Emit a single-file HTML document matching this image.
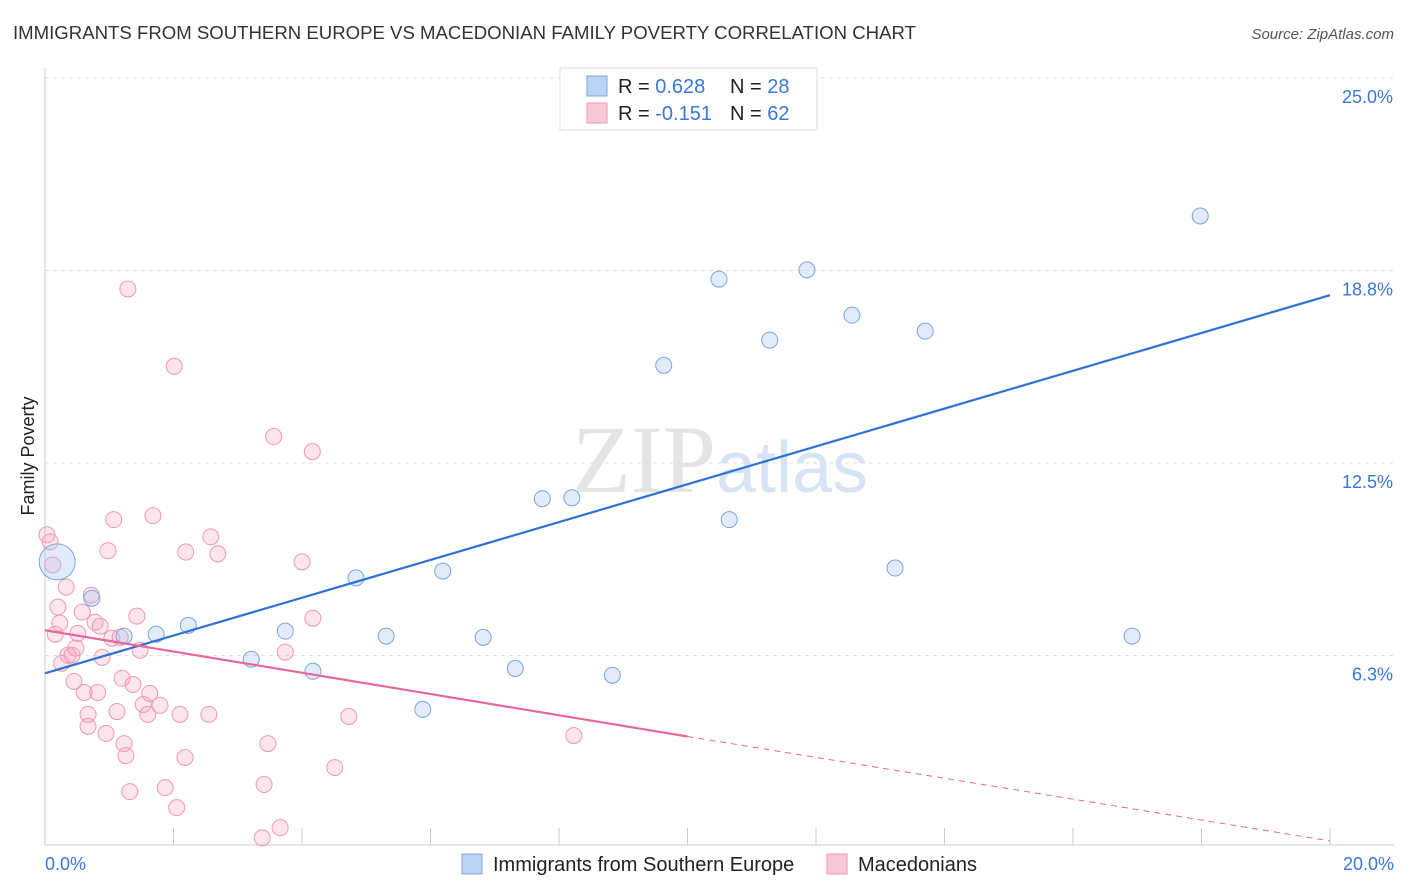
<!DOCTYPE html>
<html><head><meta charset="utf-8"><style>
body{margin:0;background:#fff;font-family:"Liberation Sans",sans-serif}
svg{display:block}
</style></head><body>
<svg id="chart" width="1406" height="892">
<text x="13" y="39" font-size="18.6" fill="#333">IMMIGRANTS FROM SOUTHERN EUROPE VS MACEDONIAN FAMILY POVERTY CORRELATION CHART</text>
<text x="1394" y="39" font-size="15" fill="#555" text-anchor="end" font-style="italic">Source: ZipAtlas.com</text>
<text x="720" y="492" font-size="96" fill="#e4e4e4" text-anchor="middle" font-family="Liberation Serif,serif">ZIP<tspan fill="#d6e4f4" font-family="Liberation Sans,sans-serif" font-size="72">atlas</tspan></text>
<text transform="translate(34,456) rotate(-90)" font-size="18" fill="#222" text-anchor="middle">Family Poverty</text>
<g id="grid"></g><g id="pts"></g><g id="lines"></g>
<g>
<rect x="560" y="68" width="257" height="62" fill="#fff" stroke="#ddd"/>
<rect x="587" y="76" width="20" height="20" fill="#bcd4f3" stroke="#7aa6e0"/>
<rect x="587" y="103" width="20" height="20" fill="#f9c8d8" stroke="#ef97b4"/>
<text x="618" y="93" font-size="20" fill="#222">R = <tspan fill="#3a78d8">0.628</tspan><tspan x="730">N = </tspan><tspan fill="#3a78d8">28</tspan></text>
<text x="618" y="120" font-size="20" fill="#222">R = <tspan fill="#3a78d8">-0.151</tspan><tspan x="730">N = </tspan><tspan fill="#3a78d8">62</tspan></text>
</g>
<g>
<rect x="462" y="854" width="20" height="20" fill="#bcd4f3" stroke="#7aa6e0"/>
<text x="493" y="871" font-size="20" fill="#222">Immigrants from Southern Europe</text>
<rect x="827" y="854" width="20" height="20" fill="#f9c8d8" stroke="#ef97b4"/>
<text x="858" y="871" font-size="20" fill="#222">Macedonians</text>
</g>
</svg>
<script>
const yTicks=[25,18.75,12.5,6.25];
const yTickLabels=["25.0%","18.8%","12.5%","6.3%"];
const xLabels=["0.0%","20.0%"];
const blueX=[0.19,0.73,1.23,1.73,2.23,3.21,3.74,4.17,4.84,5.31,5.88,6.19,6.82,7.32,7.74,8.20,8.83,9.63,10.49,10.65,11.28,11.86,12.56,13.23,13.70,16.92,17.98];
const blueY=[9.29,8.11,6.88,6.94,7.23,6.13,7.04,5.74,8.77,6.88,4.50,8.99,6.84,5.83,11.34,11.37,5.61,15.67,18.47,10.66,16.49,18.77,17.30,9.09,16.78,6.88,20.52];
const pinkX=[0.03,0.08,0.12,0.16,0.20,0.23,0.26,0.33,0.36,0.42,0.45,0.48,0.51,0.58,0.61,0.67,0.67,0.72,0.78,0.82,0.86,0.89,0.95,0.98,1.04,1.07,1.12,1.17,1.20,1.23,1.26,1.29,1.32,1.37,1.43,1.48,1.53,1.60,1.63,1.68,1.79,1.87,2.01,2.05,2.10,2.18,2.19,2.55,2.58,2.69,3.41,3.38,3.47,3.56,3.66,3.74,4.00,4.16,4.17,4.51,4.73,8.23];
const pinkY=[10.17,9.94,9.19,6.94,7.82,7.30,6.00,8.47,6.26,6.26,5.41,6.49,6.97,7.66,5.05,4.34,3.95,8.21,7.33,5.05,7.20,6.19,3.72,9.65,6.81,10.66,4.43,6.84,5.51,3.39,3.00,18.15,1.83,5.31,7.53,6.42,4.66,4.34,5.02,10.79,4.63,1.96,15.64,1.31,4.34,2.94,9.61,4.34,10.10,9.55,2.06,0.33,3.39,13.36,0.66,6.36,9.29,12.87,7.46,2.61,4.27,3.65];
const blueTrend=[5.67,17.95];
const pinkTrend=[7.07,3.62,0.23];
const X=v=>45+v*64.25, Y=v=>848-v*30.8;
const NS="http://www.w3.org/2000/svg";
function mk(parent,tag,attrs){const e=document.createElementNS(NS,tag);for(const k in attrs)e.setAttribute(k,attrs[k]);document.getElementById(parent).appendChild(e);return e;}
yTicks.forEach((t,i)=>{
 const l=mk('grid','line',{x1:45,x2:1394,y1:Y(t),y2:Y(t),stroke:'#e0e0e0','stroke-dasharray':'4,4'});
 
 
 const tx=mk('grid','text',{x:1393,y:Y(t)+25,'font-size':18,fill:'#3a78d8','text-anchor':'end'});
 tx.textContent=yTickLabels[i];
 
 
});
const ax=mk('grid','line',{x1:45,x2:1394,y1:845,y2:845,stroke:'#ccc'});


const ay=mk('grid','line',{x1:45,x2:45,y1:68,y2:845,stroke:'#ccc'});


for(let v=0;v<=20;v+=2){const t=mk('grid','line',{x1:X(v),x2:X(v),y1:828,y2:845,stroke:'#ccc'});
 
 }
const xl0=mk('grid','text',{x:45,y:870,'font-size':18,fill:'#3a78d8'});xl0.textContent=xLabels[0];


const xl1=mk('grid','text',{x:1394,y:870,'font-size':18,fill:'#3a78d8','text-anchor':'end'});xl1.textContent=xLabels[1];


pinkX.forEach((x,i)=>{const c=mk('pts','circle',{cx:X(x),cy:Y(pinkY[i]),r:8,fill:'rgba(246,170,196,0.3)',stroke:'#ef97b4','stroke-width':1});
 
 });
blueX.forEach((x,i)=>{const c=mk('pts','circle',{cx:X(x),cy:Y(blueY[i]),r:i===0?18:8,fill:'rgba(170,198,240,0.35)',stroke:'#7aa6e0','stroke-width':1});
 
 });
const bl=mk('lines','line',{x1:X(0),y1:Y(blueTrend[0]),x2:X(20),y2:Y(blueTrend[1]),stroke:'#2f72d6','stroke-width':2.2});


const pl=mk('lines','line',{x1:X(0),y1:Y(pinkTrend[0]),x2:X(10),y2:Y(pinkTrend[1]),stroke:'#e8679a','stroke-width':2.2});


const pd=mk('lines','line',{x1:X(10),y1:Y(pinkTrend[1]),x2:X(20),y2:Y(pinkTrend[2]),stroke:'#e8679a','stroke-width':1,'stroke-dasharray':'6,5'});


</script>
</body></html>
